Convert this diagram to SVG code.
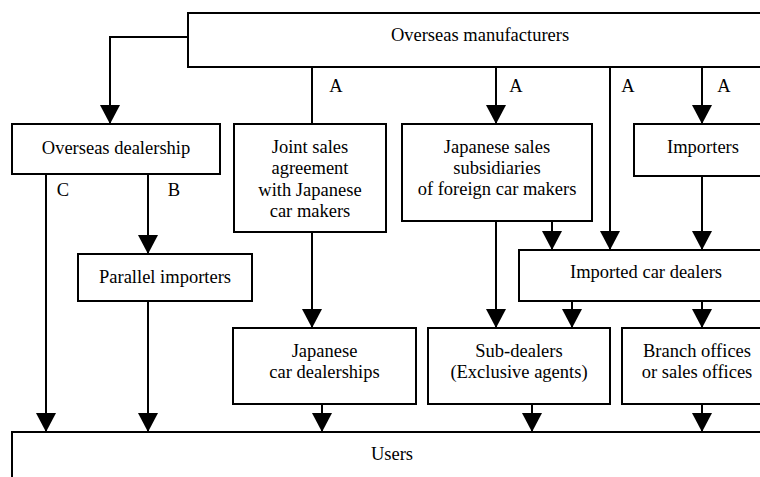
<svg xmlns="http://www.w3.org/2000/svg" width="760" height="477" viewBox="0 0 760 477">
<style>
.box{fill:#fff;stroke:#000;stroke-width:2}
.t{font-family:"Liberation Serif","Times New Roman",serif;font-size:18.5px;fill:#000;text-anchor:middle}
.c{fill:none;stroke:#000;stroke-width:2}
</style>
<defs>
<marker id="ah" markerUnits="userSpaceOnUse" markerWidth="20" markerHeight="20" refX="19" refY="10" orient="auto" viewBox="0 0 20 20">
<path d="M0,0 L19,10 L0,20 Z" fill="#000"/>
</marker>
</defs>
<rect width="760" height="477" fill="#fff"/>
<g id="connectors">
<path class="c" d="M188,37 H110 V124" marker-end="url(#ah)"/>
<path class="c" d="M312,67 V124"/>
<path class="c" d="M496,67 V124" marker-end="url(#ah)"/>
<path class="c" d="M610,67 V250" marker-end="url(#ah)"/>
<path class="c" d="M702,67 V124" marker-end="url(#ah)"/>
<path class="c" d="M46,174 V432" marker-end="url(#ah)"/>
<path class="c" d="M148,174 V254" marker-end="url(#ah)"/>
<path class="c" d="M148,301 V432" marker-end="url(#ah)"/>
<path class="c" d="M312,232 V328" marker-end="url(#ah)"/>
<path class="c" d="M322,404 V432" marker-end="url(#ah)"/>
<path class="c" d="M496,221 V328" marker-end="url(#ah)"/>
<path class="c" d="M552,221 V250" marker-end="url(#ah)"/>
<path class="c" d="M702,176 V250" marker-end="url(#ah)"/>
<path class="c" d="M572,301 V328" marker-end="url(#ah)"/>
<path class="c" d="M702,301 V328" marker-end="url(#ah)"/>
<path class="c" d="M532,404 V432" marker-end="url(#ah)"/>
<path class="c" d="M702,404 V432" marker-end="url(#ah)"/>
<text class="t" x="336" y="92">A</text>
<text class="t" x="516" y="92">A</text>
<text class="t" x="628" y="92">A</text>
<text class="t" x="724" y="92">A</text>
<text class="t" x="63" y="196">C</text>
<text class="t" x="174" y="196">B</text>
</g>
<g id="overseas-manufacturers">
<rect class="box" x="188" y="13" width="590" height="54"/>
<text class="t" x="480" y="41">Overseas manufacturers</text>
</g>
<g id="overseas-dealership">
<rect class="box" x="12" y="124" width="208" height="50"/>
<text class="t" x="116" y="154">Overseas dealership</text>
</g>
<g id="joint-sales">
<rect class="box" x="234" y="124" width="152" height="108"/>
<text class="t" x="310" y="153">Joint sales</text>
<text class="t" x="310" y="174">agreement</text>
<text class="t" x="310" y="196">with Japanese</text>
<text class="t" x="310" y="217">car makers</text>
</g>
<g id="japanese-sales-subsidiaries">
<rect class="box" x="402" y="124" width="190" height="97"/>
<text class="t" x="497" y="153">Japanese sales</text>
<text class="t" x="497" y="174">subsidiaries</text>
<text class="t" x="497" y="195">of foreign car makers</text>
</g>
<g id="importers">
<rect class="box" x="634" y="124" width="140" height="52"/>
<text class="t" x="703" y="153">Importers</text>
</g>
<g id="parallel-importers">
<rect class="box" x="78" y="254" width="174" height="47"/>
<text class="t" x="165" y="283">Parallel importers</text>
</g>
<g id="imported-car-dealers">
<rect class="box" x="519" y="250" width="255" height="51"/>
<text class="t" x="646" y="278">Imported car dealers</text>
</g>
<g id="japanese-car-dealerships">
<rect class="box" x="233" y="328" width="183" height="76"/>
<text class="t" x="324.5" y="357">Japanese</text>
<text class="t" x="324.5" y="378">car dealerships</text>
</g>
<g id="sub-dealers">
<rect class="box" x="428" y="328" width="182" height="76"/>
<text class="t" x="519" y="357">Sub-dealers</text>
<text class="t" x="519" y="378">(Exclusive agents)</text>
</g>
<g id="branch-offices">
<rect class="box" x="622" y="328" width="150" height="76"/>
<text class="t" x="697" y="357">Branch offices</text>
<text class="t" x="697" y="378">or sales offices</text>
</g>
<g id="users">
<rect class="box" x="12" y="432" width="770" height="60"/>
<text class="t" x="392" y="460">Users</text>
</g>
</svg>
